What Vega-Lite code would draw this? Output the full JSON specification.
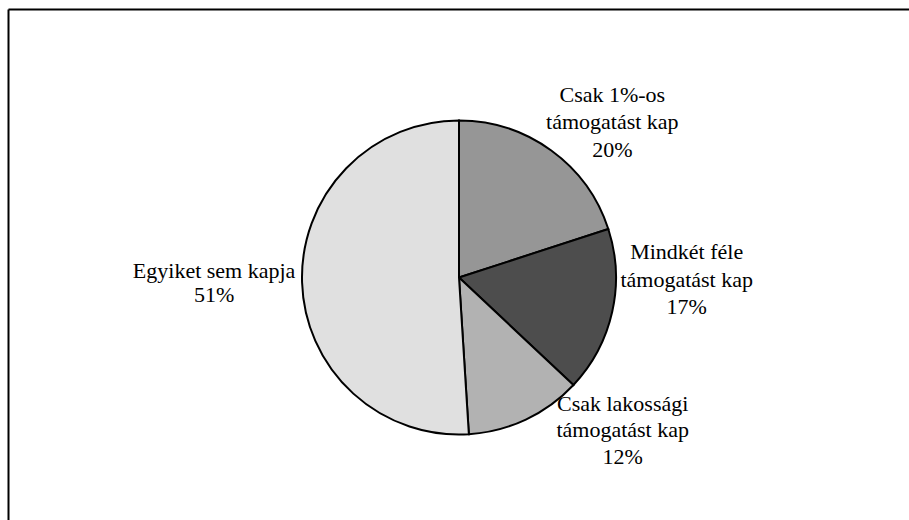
{
  "$schema": "https://vega.github.io/schema/vega-lite/v6.json",
  "width": 902,
  "height": 537,
  "autosize": {"type": "none"},
  "padding": {"left": 8, "top": 9, "right": -1, "bottom": -26},
  "background": "white",
  "config": {"view": {"stroke": null}},
  "data": {"values": [
    {"cat": "Csak 1%-os támogatást kap", "k": 1, "pct": 20, "label": "Csak 1%-os\ntámogatást kap\n20%"},
    {"cat": "Mindkét féle támogatást kap", "k": 2, "pct": 17, "label": "Mindkét féle\ntámogatást kap\n17%"},
    {"cat": "Csak lakossági támogatást kap", "k": 3, "pct": 12, "label": "Csak lakossági\ntámogatást kap\n12%"},
    {"cat": "Egyiket sem kapja", "k": 4, "pct": 51, "label": "Egyiket sem kapja\n51%"}
  ]},
  "transform": [
    {"stack": "pct", "groupby": [], "sort": [{"field": "k", "order": "ascending"}], "as": ["th0", "th1"]},
    {"calculate": "(datum.th0 + datum.th1) / 2", "as": "mid"}
  ],
  "layer": [
    {
      "mark": {"type": "point", "opacity": 0},
      "encoding": {
        "x": {"field": "pct", "type": "quantitative", "scale": {"range": [0, 901]}, "axis": {"orient": "top", "domain": true, "domainColor": "black", "domainWidth": 2, "ticks": false, "labels": false, "grid": false, "title": null}},
        "y": {"field": "pct", "type": "quantitative", "scale": {"range": [511, 0]}, "axis": {"orient": "left", "domain": true, "domainColor": "black", "domainWidth": 2, "ticks": false, "labels": false, "grid": false, "title": null}}
      }
    },
    {
      "mark": {"type": "arc", "outerRadius": 157, "stroke": "black", "strokeWidth": 2},
      "encoding": {
        "theta": {"field": "th0", "type": "quantitative", "scale": {"domain": [0, 100]}},
        "theta2": {"field": "th1"},
        "color": {"field": "cat", "type": "nominal", "legend": null,
          "scale": {"domain": ["Csak 1%-os támogatást kap", "Mindkét féle támogatást kap", "Csak lakossági támogatást kap", "Egyiket sem kapja"],
                    "range": ["#969696", "#4d4d4d", "#b2b2b2", "#e0e0e0"]}}
      }
    },
    {
      "transform": [{"filter": "datum.k == 1"}],
      "mark": {"type": "text", "radius": 220, "dx": 24, "dy": -5, "lineBreak": "\n", "font": "Liberation Serif", "fontSize": 22, "lineHeight": 27.5, "align": "center", "baseline": "middle", "color": "black"},
      "encoding": {"theta": {"field": "mid", "type": "quantitative", "stack": false}, "text": {"field": "label"}}
    },
    {
      "transform": [{"filter": "datum.k == 2"}],
      "mark": {"type": "text", "radius": 220, "dx": 13, "dy": -73, "lineBreak": "\n", "font": "Liberation Serif", "fontSize": 22, "lineHeight": 27.5, "align": "center", "baseline": "middle", "color": "black"},
      "encoding": {"theta": {"field": "mid", "type": "quantitative", "stack": false}, "text": {"field": "label"}}
    },
    {
      "transform": [{"filter": "datum.k == 3"}],
      "mark": {"type": "text", "radius": 220, "dx": 70, "dy": -73, "lineBreak": "\n", "font": "Liberation Serif", "fontSize": 22, "lineHeight": 26.5, "align": "center", "baseline": "middle", "color": "black"},
      "encoding": {"theta": {"field": "mid", "type": "quantitative", "stack": false}, "text": {"field": "label"}}
    },
    {
      "transform": [{"filter": "datum.k == 4"}],
      "mark": {"type": "text", "radius": 220, "dx": -25, "dy": -13, "lineBreak": "\n", "font": "Liberation Serif", "fontSize": 22, "lineHeight": 24, "align": "center", "baseline": "middle", "color": "black"},
      "encoding": {"theta": {"field": "mid", "type": "quantitative", "stack": false}, "text": {"field": "label"}}
    }
  ]
}
